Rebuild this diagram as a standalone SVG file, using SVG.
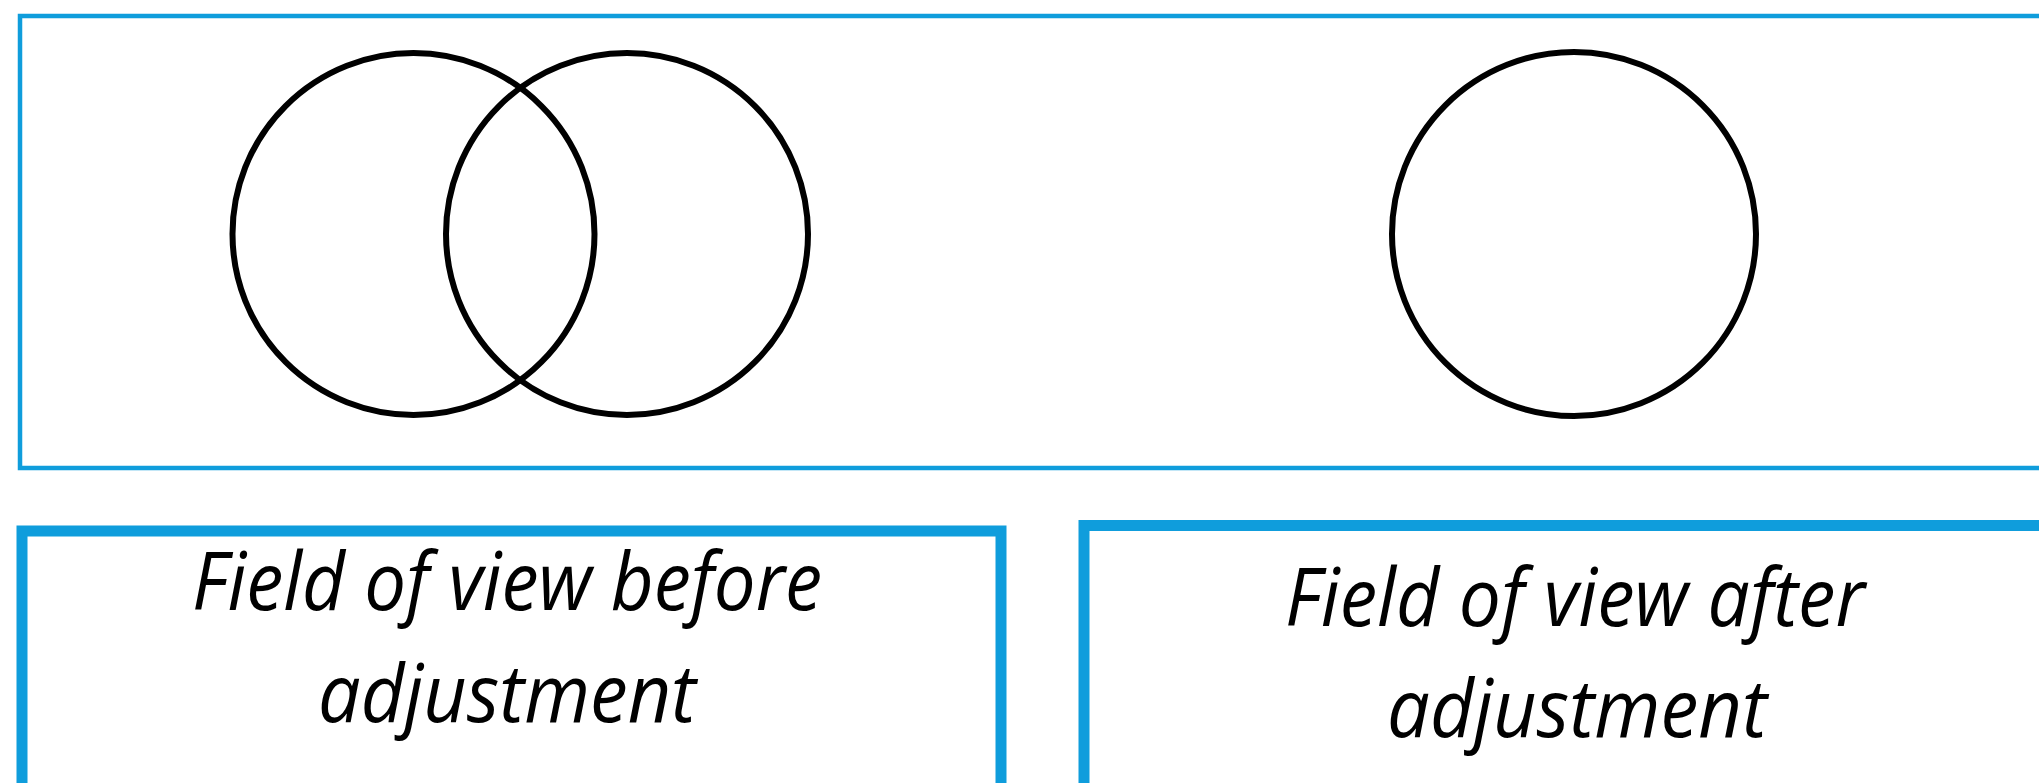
<svg xmlns="http://www.w3.org/2000/svg" width="2039" height="783" viewBox="0 0 2039 783">
<style>
.frame{fill:none;stroke:#0f9ddc;}
.ring{fill:none;stroke:#000;stroke-width:6;}
.lbl{font-family:"Open Sans","Noto Sans",sans-serif;font-style:italic;font-size:80px;fill:#000;text-anchor:middle;}
</style>
<rect width="2039" height="783" fill="#fff"/>
<g id="view-panel">
<rect class="frame" x="20" y="16" width="2060" height="452" stroke-width="4.5"/>
</g>
<g id="circle-before-a"><circle class="ring" cx="413.5" cy="234" r="181"/></g>
<g id="circle-before-b"><circle class="ring" cx="627" cy="234" r="181"/></g>
<g id="circle-after"><circle class="ring" cx="1574" cy="234" r="182"/></g>
<g id="label-before">
<rect class="frame" x="22" y="531" width="979" height="300" stroke-width="11"/>
<text class="lbl" x="507" y="610" textLength="630" lengthAdjust="spacingAndGlyphs">Field of view before</text>
<text class="lbl" x="507" y="722" textLength="378" lengthAdjust="spacingAndGlyphs">adjustment</text>
</g>
<g id="label-after">
<rect class="frame" x="1084" y="525.5" width="1000" height="300" stroke-width="11"/>
<text class="lbl" x="1575" y="626" textLength="580" lengthAdjust="spacingAndGlyphs">Field of view after</text>
<text class="lbl" x="1577" y="737" textLength="380" lengthAdjust="spacingAndGlyphs">adjustment</text>
</g>
<g id="connectors"></g>
</svg>
